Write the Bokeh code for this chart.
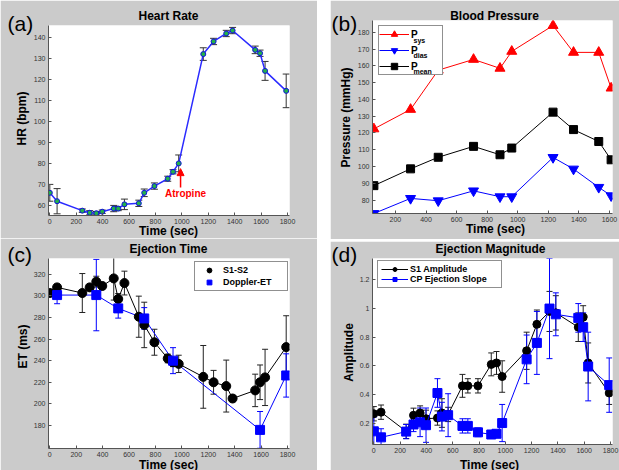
import math
from bokeh.plotting import figure
from bokeh.models import (Label, Legend, LegendItem, FixedTicker, Range1d, Spacer,
                          Arrow, NormalHead, GridBox)
from bokeh.layouts import column
from bokeh.core.properties import value
from bokeh.embed import file_html
from bokeh.resources import INLINE

FONT = "Liberation Sans"
GRAY = "#cbcbcb"
PAGE_W, PAGE_H = 619, 470

# ---------------- data ----------------
time_s = [0, 55, 246, 302, 352, 397, 484, 518, 565, 674, 715, 792, 893, 933, 976,
          1162, 1240, 1336, 1384, 1555, 1592, 1630, 1790]

hr_bpm = [66, 62, 57.5, 56.5, 56.3, 57, 58.5, 58.5, 60.5, 61, 66, 69.2, 72.7, 76, 80,
          132, 138, 141.8, 143.2, 134, 132.4, 124, 114.5]
hr_err = [4, 6, 0.8, 1, 0.8, 0.8, 1.5, 1, 2.5, 1.5, 1.8, 1.5, 1.2, 1, 4,
          3, 1.5, 1.5, 1.5, 1.8, 1.5, 4.5, 8]
atropine_time = 990
atropine_arrow_hr = (68.5, 77.5)

bp_time = [59, 299, 480, 711, 884, 961, 1231, 1365, 1530, 1611]
p_sys = [122.4, 134, 157.4, 163.8, 158.5, 168.6, 184, 168, 168, 146.7]
p_dias = [72, 81, 79.6, 85.5, 82, 82, 105.4, 98.5, 87.6, 82.6]
p_mean = [88.6, 98.6, 105.5, 112, 107, 111, 132.4, 122, 114.9, 104]

et_s1s2 = [302.5, 307.7, 302.5, 307.7, 313, 309, 316, 297, 311.7, 280.6, 273, 257, 242,
           238.5, 237, 225, 220, 216.5, 205, 212.5, 220, 224.5, 252.5]
et_s1s2_err = [3, 3, 18, 3, 5, 3, 20, 5, 11, 19, 21, 12, 4, 4, 8, 29, 11, 24, 3, 15, 16, 26, 29]
doppler_time = [55, 352, 518, 715, 933, 1592, 1790]
et_doppler = [300.6, 300.6, 288.3, 279, 240, 176, 226.3]
et_doppler_err = [8, 33, 9, 10, 12, 17, 20]

s1_amp = [0.265, 0.276, 0.142, 0.254, 0.27, 0.23, 0.235, 0.27, 0.26, 0.46, 0.46, 0.46,
          0.61, 0.62, 0.525, 0.705, 0.89, 0.98, 0.97, 0.87, 0.94, 0.62, 0.41]
s1_amp_err = [0.05, 0.05, 0.05, 0.05, 0.05, 0.06, 0.05, 0.1, 0.05, 0.08, 0.05, 0.05,
              0.08, 0.08, 0.11, 0.13, 0.1, 0.14, 0.12, 0.1, 0.08, 0.14, 0.08]
cp_slope = [0.142, 0.10, 0.14, 0.19, 0.205, 0.185, 0.41, 0.245, 0.255, 0.18, 0.18, 0.135,
            0.12, 0.125, 0.2, 0.645, 0.76, 1.0, 0.96, 0.935, 0.87, 0.595, 0.465]
cp_slope_err = [0.1, 0.06, 0.05, 0.05, 0.1, 0.12, 0.1, 0.1, 0.15, 0.05, 0.05, 0.03,
                0.02, 0.02, 0.13, 0.17, 0.22, 0.35, 0.15, 0.1, 0.1, 0.24, 0.19]

time_ticks = [0, 200, 400, 600, 800, 1000, 1200, 1400, 1600, 1800]
bp_time_ticks = [200, 400, 600, 800, 1000, 1200, 1400, 1600]
hr_ticks = [60, 70, 80, 90, 100, 110, 120, 130, 140]
bp_ticks = [80, 90, 100, 110, 120, 130, 140, 150, 160, 170, 180]
et_ticks = [180, 200, 220, 240, 260, 280, 300, 320]
amp_ticks = [0.2, 0.4, 0.6, 0.8, 1.0, 1.2]
amp_tick_labels = ["0.2", "0.4", "0.6", "0.8", "1", "1.2"]

panel_titles = ["Heart Rate", "Blood Pressure", "Ejection Time", "Ejection Magnitude"]
panel_tags = ["(a)", "(b)", "(c)", "(d)"]
x_labels = ["Time (sec)", "Time (sec)", "Time (sec)", "Time (sec)"]
y_labels = ["HR (bpm)", "Pressure (mmHg)", "ET (ms)", "Amplitude"]
bp_subscripts = ["sys", "dias", "mean"]


# ---------------- helpers ----------------
def make_panel(origin, size, frame, xr, yr, xt, yt):
    ox, oy = origin
    w, h = size
    L, T, R, B = frame
    p = figure(width=w, height=h, x_range=Range1d(*xr), y_range=Range1d(*yr),
               output_backend="svg", toolbar_location=None,
               min_border_left=L - ox, min_border_right=ox + w - R,
               min_border_top=T - oy, min_border_bottom=oy + h - B,
               background_fill_color="white", border_fill_color=GRAY,
               outline_line_color=None)
    p.title.visible = False
    p.grid.visible = False
    p.xaxis.ticker = FixedTicker(ticks=xt)
    p.yaxis.ticker = FixedTicker(ticks=yt)
    for ax in (p.xaxis[0], p.yaxis[0]):
        ax.major_tick_in = 3
        ax.major_tick_out = 0
        ax.minor_tick_in = 0
        ax.minor_tick_out = 0
        ax.axis_line_color = "#555555"
        ax.major_tick_line_color = "#555555"
        ax.major_label_text_font = FONT
        ax.major_label_text_font_size = "7px"
        ax.major_label_text_color = "#333333"
        ax.major_label_standoff = 3
    p._frame_abs = frame
    return p


def errbars(p, xs, ys, es, color, cap=6, width=1.0):
    lo = [y - e for y, e in zip(ys, es)]
    hi = [y + e for y, e in zip(ys, es)]
    p.segment(x0=xs, y0=lo, x1=xs, y1=hi, line_color=color, line_width=width)
    p.scatter(x=list(xs) + list(xs), y=lo + hi, marker="dash", size=cap,
              line_color=color, line_width=width)


def legend(items, frame, box_left, box_top, n, padding, lh, gw, lw, font_size):
    L, T, R, B = frame
    height = 2 * padding + n * lh
    return Legend(items=items, location=(box_left - L, B - (box_top + height)),
                  padding=padding, spacing=0, label_height=lh, glyph_height=lh,
                  glyph_width=gw, label_standoff=2, label_width=lw, margin=0,
                  label_text_font=FONT, label_text_font_size=f"{font_size}px",
                  label_text_font_style="bold", label_text_color="black",
                  border_line_color="#222222", border_line_width=1,
                  background_fill_color="white", background_fill_alpha=1.0)


# ---------------- (a) Heart rate ----------------
pa = make_panel((0, 0), (317, 238), (48, 25, 289, 215), (-10, 1815), (55.2, 145.6),
                time_ticks, hr_ticks)
errbars(pa, time_s, hr_bpm, hr_err, "#333333", cap=7)
pa.line(time_s, hr_bpm, line_color="#2b2bff", line_width=1.5)
pa.scatter(time_s, hr_bpm, marker="circle", size=5, fill_color="#22b04a",
           line_color="#1010dd", line_width=1)
pa.add_layout(Arrow(end=NormalHead(size=7, fill_color="red", line_color="red"),
                    x_start=atropine_time, y_start=atropine_arrow_hr[0],
                    x_end=atropine_time, y_end=atropine_arrow_hr[1],
                    line_color="red", line_width=1.5))
pa.add_layout(Label(x=185 - 48, y=215 - 193, x_units="screen", y_units="screen",
                    text="Atropine", text_font=FONT, text_font_size="10px",
                    text_font_style="bold", text_color="red",
                    text_align="center", text_baseline="middle"))

# ---------------- (b) Blood pressure ----------------
pb = make_panel((330, 0), (289, 239), (369, 20, 617, 213), (50, 1620), (72, 187),
                bp_time_ticks, bp_ticks)
l_sys = pb.line(bp_time, p_sys, line_color="red", line_width=1)
s_sys = pb.scatter(bp_time, p_sys, marker="triangle", size=10, fill_color="red", line_color="red")
l_dia = pb.line(bp_time, p_dias, line_color="blue", line_width=1)
s_dia = pb.scatter(bp_time, p_dias, marker="inverted_triangle", size=10, fill_color="blue", line_color="blue")
l_mean = pb.line(bp_time, p_mean, line_color="black", line_width=1)
s_mean = pb.scatter(bp_time, p_mean, marker="square", size=8, fill_color="black", line_color="black")
pb.add_layout(legend([LegendItem(label="P", renderers=[l_sys, s_sys]),
                      LegendItem(label="P", renderers=[l_dia, s_dia]),
                      LegendItem(label="P", renderers=[l_mean, s_mean])],
                     pb._frame_abs, 375, 27, 3, 0, 16, 30, 31, 10))

# ---------------- (c) Ejection time ----------------
pc = make_panel((0, 238), (317, 232), (48, 258, 289, 448), (-10, 1815), (158.8, 334.4),
                time_ticks, et_ticks)
errbars(pc, time_s, et_s1s2, et_s1s2_err, "#222222", cap=6)
errbars(pc, doppler_time, et_doppler, et_doppler_err, "blue", cap=6)
pc.line(time_s, et_s1s2, line_color="black", line_width=1)
pc.line(doppler_time, et_doppler, line_color="blue", line_width=1)
c_s1 = pc.scatter(time_s, et_s1s2, marker="circle", size=9, fill_color="black", line_color="black")
c_dp = pc.scatter(doppler_time, et_doppler, marker="square", size=9, fill_color="blue", line_color="blue")
pc.add_layout(legend([LegendItem(label="S1-S2", renderers=[c_s1]),
                      LegendItem(label="Doppler-ET", renderers=[c_dp])],
                     pc._frame_abs, 194, 263, 2, 2, 12, 24, 62, 9))

# ---------------- (d) Ejection magnitude ----------------
pd_ = make_panel((330, 241), (289, 229), (372, 258, 612, 444), (-10, 1815), (0.05, 1.35),
                 time_ticks, amp_ticks)
pd_.yaxis.major_label_overrides = {t: s for t, s in zip(amp_ticks, amp_tick_labels)}
errbars(pd_, time_s, s1_amp, s1_amp_err, "#222222", cap=6)
errbars(pd_, time_s, cp_slope, cp_slope_err, "blue", cap=6)
d_l1 = pd_.line(time_s, s1_amp, line_color="black", line_width=1)
d_s1 = pd_.scatter(time_s, s1_amp, marker="circle", size=8, fill_color="black", line_color="black")
d_l2 = pd_.line(time_s, cp_slope, line_color="blue", line_width=1)
d_s2 = pd_.scatter(time_s, cp_slope, marker="square", size=9, fill_color="blue", line_color="blue")
pd_.add_layout(legend([LegendItem(label="S1 Amplitude", renderers=[d_l1, d_s1]),
                       LegendItem(label="CP Ejection Slope", renderers=[d_l2, d_s2])],
                      pd_._frame_abs, 377, 262, 2, 3, 10, 27, 88, 9))

# ---------------- text overlay (titles, tags, axis labels) ----------------
ov = figure(width=PAGE_W, height=PAGE_H, x_range=Range1d(0, PAGE_W), y_range=Range1d(0, PAGE_H),
            output_backend="svg", toolbar_location=None, min_border=0,
            x_axis_location=None, y_axis_location=None,
            border_fill_alpha=0, background_fill_alpha=0, outline_line_color=None)
ov.title.visible = False
ov.grid.visible = False


def ov_text(items, size, style="bold", angle=0.0, align="center"):
    xs = [it[1] for it in items]
    ys = [PAGE_H - it[2] for it in items]
    ov.text(x=xs, y=ys, text=[it[0] for it in items], angle=angle,
            text_font=value(FONT), text_font_size=value(f"{size}px"),
            text_font_style=style, text_align=align, text_baseline="middle",
            text_color="black")


ov_text(list(zip(panel_titles, [168, 494, 168, 490], [15, 15, 248, 248])), 12)
ov_text(list(zip(panel_tags, [7, 331, 7, 331], [23, 23, 254, 254])), 21, style="normal",
        align="left")
ov_text(list(zip(x_labels, [168, 495, 168, 489], [230, 228, 464, 464])), 12)
ov_text(list(zip(y_labels, [21, 345, 22, 348], [118, 117, 346, 352])), 12, angle=math.pi / 2)
ov_text(list(zip(bp_subscripts, [413, 413, 413], [39.5, 55, 71])), 7, align="left")

left_col = column(pa, pc)
right_col = column(pb, Spacer(width=289, height=2), pd_)
grid = GridBox(children=[(left_col, 0, 0), (Spacer(width=13, height=PAGE_H), 0, 1),
                         (right_col, 0, 2), (ov, 0, 0, 1, 3)])

open("out.html", "w").write(file_html(grid, INLINE))
